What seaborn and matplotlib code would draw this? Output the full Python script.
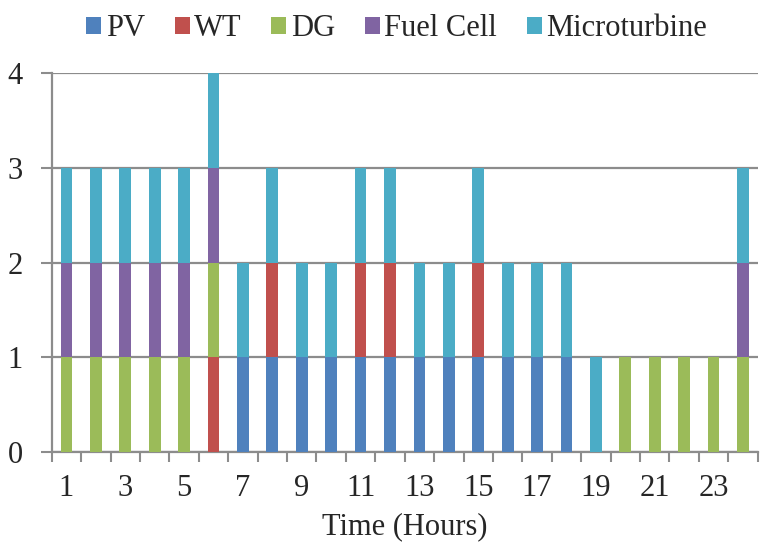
import numpy as np
import pandas as pd
import matplotlib
matplotlib.use("Agg")
import matplotlib.pyplot as plt
import seaborn as sns
from matplotlib.patches import Patch

hours = list(range(1, 25))
pv  = [0,0,0,0,0,0,1,1,1,1,1,1,1,1,1,1,1,1,0,0,0,0,0,0]
wt  = [0,0,0,0,0,1,0,1,0,0,1,1,0,0,1,0,0,0,0,0,0,0,0,0]
dg  = [1,1,1,1,1,1,0,0,0,0,0,0,0,0,0,0,0,0,0,1,1,1,1,1]
fc  = [1,1,1,1,1,1,0,0,0,0,0,0,0,0,0,0,0,0,0,0,0,0,0,1]
mt  = [1,1,1,1,1,1,1,1,1,1,1,1,1,1,1,1,1,1,1,0,0,0,0,1]
series_names = ["PV", "WT", "DG", "Fuel Cell", "Microturbine"]
colors = ["#4F81BD", "#C0504D", "#9BBB59", "#8064A2", "#4BACC6"]
xtick_labels = [str(h) if h % 2 == 1 else "" for h in hours]

sns.set_style("white")
plt.rcParams["font.family"] = ["Liberation Serif", "DejaVu Serif"]
FS = 22

fig = plt.figure(figsize=(7.6, 5.46), dpi=100)
ax = fig.add_axes([0.068, 0.172, 0.929, 0.694])

data = [pv, wt, dg, fc, mt]
bottom = np.zeros(len(hours))
for name, vals, col in zip(series_names, data, colors):
    df = pd.DataFrame({"hour": [str(h) for h in hours], "val": vals})
    sns.barplot(data=df, x="hour", y="val", color=col, bottom=bottom,
                width=0.4, ax=ax, saturation=1, linewidth=0, zorder=3)
    bottom = bottom + np.array(vals)

ax.set_xlim(-0.5, 23.5)
ax.set_ylim(0, 4)
ax.set_yticks([0, 1, 2, 3, 4])
ax.yaxis.grid(True, color="#8C8C8C", linewidth=1.6, zorder=0)
ax.set_axisbelow(True)
ax.set_xticks(range(24))
ax.set_xticklabels(xtick_labels)
ax.set_xticks(np.arange(-0.5, 24, 1), minor=True)
ax.tick_params(axis="x", which="major", length=0, pad=15.5, labelsize=FS)
ax.tick_params(axis="x", which="minor", length=7, width=1.5, color="#8C8C8C", direction="out", bottom=True)
ax.tick_params(axis="y", which="major", length=8, width=1.5, color="#8C8C8C", labelsize=FS, pad=13, left=True)

for s in ["top", "right"]:
    ax.spines[s].set_visible(False)
for s in ["left", "bottom"]:
    ax.spines[s].set_color("#8C8C8C")
    ax.spines[s].set_linewidth(1.6)

ax.set_xlabel("Time (Hours)", fontsize=FS, labelpad=7)
ax.set_ylabel("")

handles = [Patch(facecolor=c, edgecolor="none") for c in colors]
fig.legend(handles, series_names, loc="upper center", bbox_to_anchor=(0.522, 1.024),
           ncol=5, frameon=False, fontsize=FS, handlelength=0.49, handleheight=0.49,
           handletextpad=0.15, columnspacing=0.97)

fig.savefig("out.png", dpi=100)
